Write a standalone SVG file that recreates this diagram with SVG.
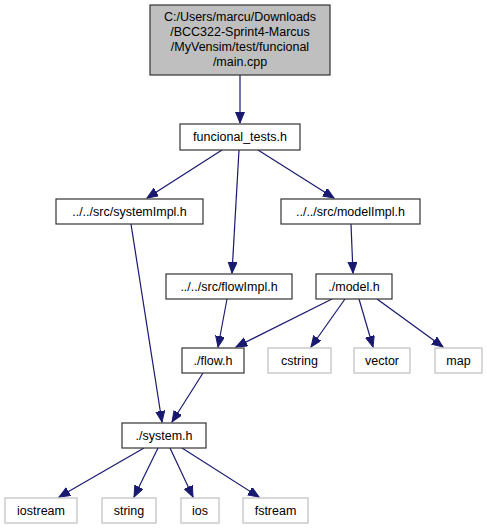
<svg xmlns="http://www.w3.org/2000/svg" width="487" height="529" viewBox="0 0 487 529">
<style>
text{font-family:"Liberation Sans",Arial,sans-serif;font-size:12.5px;text-anchor:middle;fill:#000}
.n{fill:#fff;stroke:#333;stroke-width:1.2}
.m{fill:#bfbfbf;stroke:#333;stroke-width:1.2}
.s{fill:#fff;stroke:#bfbfbf;stroke-width:1.2}
.e{stroke:#191970;stroke-width:1.2;fill:none;marker-end:url(#a)}
</style>
<defs>
<marker id="a" markerUnits="userSpaceOnUse" markerWidth="12" markerHeight="10" refX="11" refY="4.5" orient="auto">
<path d="M0,0 L11,4.5 L0,9 Z" fill="#191970" stroke="#191970" stroke-width="1"/>
</marker>
</defs>
<g id="edges">
<line class="e" x1="240" y1="75" x2="240" y2="123"/>
<line class="e" x1="222" y1="150" x2="147" y2="198"/>
<line class="e" x1="258" y1="150" x2="334" y2="198"/>
<path class="e" d="M239,150 L232,273"/>
<line class="e" x1="351" y1="224" x2="353" y2="273"/>
<line class="e" x1="131" y1="224" x2="162" y2="422"/>
<line class="e" x1="227" y1="299" x2="218" y2="347"/>
<line class="e" x1="332" y1="299" x2="236" y2="347"/>
<line class="e" x1="345" y1="299" x2="311" y2="347"/>
<line class="e" x1="359" y1="299" x2="373" y2="347"/>
<line class="e" x1="377" y1="299" x2="443" y2="347"/>
<line class="e" x1="203" y1="373" x2="172" y2="422"/>
<line class="e" x1="144" y1="448" x2="59" y2="497"/>
<line class="e" x1="158" y1="448" x2="134" y2="497"/>
<line class="e" x1="170" y1="448" x2="193" y2="497"/>
<line class="e" x1="182" y1="448" x2="259" y2="497"/>
</g>
<g id="main">
<rect class="m" x="150" y="5" width="180" height="70"/>
<text x="240" y="21">C:/Users/marcu/Downloads</text>
<text x="240" y="36">/BCC322-Sprint4-Marcus</text>
<text x="240" y="51">/MyVensim/test/funcional</text>
<text x="240" y="66">/main.cpp</text>
</g>
<g id="funcional_tests">
<rect class="n" x="180" y="124" width="120" height="26"/>
<text x="240" y="141">funcional_tests.h</text>
</g>
<g id="systemImpl">
<rect class="n" x="56" y="199" width="147" height="25"/>
<text x="129.5" y="216">../../src/systemImpl.h</text>
</g>
<g id="modelImpl">
<rect class="n" x="281" y="199" width="139" height="25"/>
<text x="350.5" y="216">../../src/modelImpl.h</text>
</g>
<g id="flowImpl">
<rect class="n" x="166" y="274" width="126" height="25"/>
<text x="229" y="291">../../src/flowImpl.h</text>
</g>
<g id="model">
<rect class="n" x="316" y="274" width="76" height="25"/>
<text x="354" y="291">./model.h</text>
</g>
<g id="flow">
<rect class="n" x="182" y="348" width="62" height="25"/>
<text x="213" y="365">./flow.h</text>
</g>
<g id="cstring">
<rect class="s" x="268" y="348" width="63" height="25"/>
<text x="299.5" y="365">cstring</text>
</g>
<g id="vector">
<rect class="s" x="354" y="348" width="56" height="25"/>
<text x="382" y="365">vector</text>
</g>
<g id="map">
<rect class="s" x="435" y="348" width="47" height="25"/>
<text x="458.5" y="365">map</text>
</g>
<g id="system">
<rect class="n" x="122" y="423" width="84" height="25"/>
<text x="164" y="440">./system.h</text>
</g>
<g id="iostream">
<rect class="s" x="5" y="498" width="72" height="25"/>
<text x="41" y="515">iostream</text>
</g>
<g id="string">
<rect class="s" x="102" y="498" width="54" height="25"/>
<text x="129" y="515">string</text>
</g>
<g id="ios">
<rect class="s" x="181" y="498" width="38" height="25"/>
<text x="200" y="515">ios</text>
</g>
<g id="fstream">
<rect class="s" x="243" y="498" width="65" height="25"/>
<text x="275.5" y="515">fstream</text>
</g>
</svg>
